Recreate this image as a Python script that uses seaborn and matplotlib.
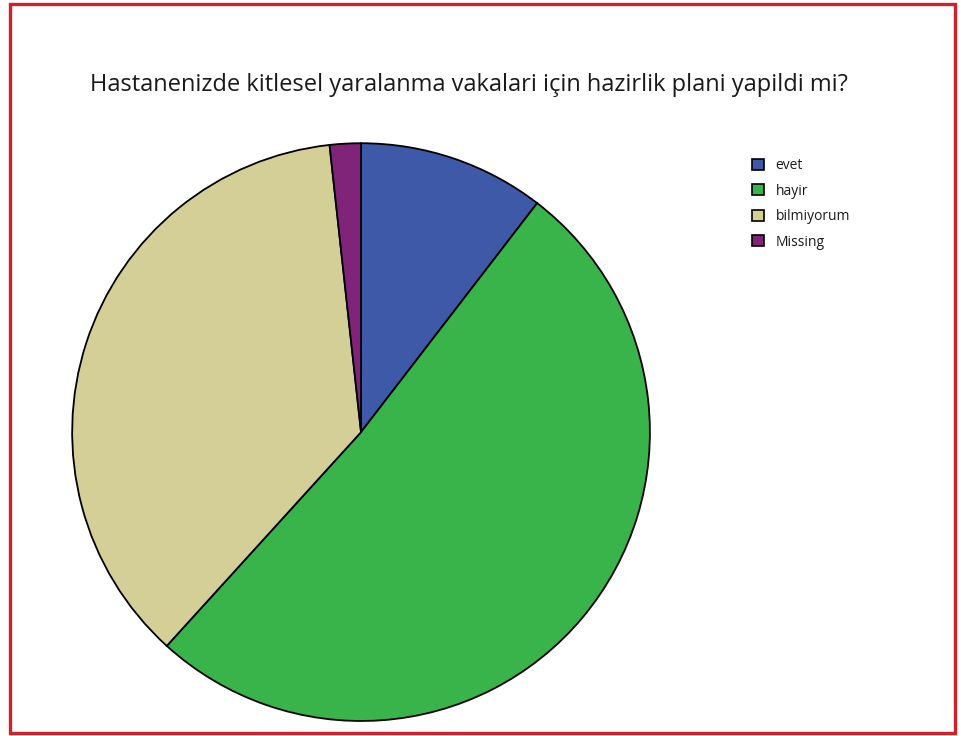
import matplotlib
matplotlib.use("Agg")
import matplotlib.pyplot as plt
from matplotlib.patches import Rectangle, Patch
import seaborn as sns

# survey answers (counts)
labels = ['evet', 'hayir', 'bilmiyorum', 'Missing']
counts = [12, 59, 42, 2]
colors = ['#3e59a8', '#38b44a', '#d4cf96', '#7f2478']
title = 'Hastanenizde kitlesel yaralanma vakalari için hazirlik plani yapildi mi?'

sns.set_theme(style='white')
plt.rcParams['font.family'] = ['Open Sans', 'DejaVu Sans']
plt.rcParams['text.color'] = '#1a1a1a'

fig = plt.figure(figsize=(9.62, 7.36), dpi=100)

# pie axes placed so the circle sits where it does in the original
ax = fig.add_axes([0.0748, 0.0204, 0.601, 0.785])
wedges, _ = ax.pie(counts, colors=sns.color_palette(colors), startangle=90,
                   counterclock=False,
                   wedgeprops=dict(edgecolor='black', linewidth=1.3))
ax.set_xlim(-1, 1)
ax.set_ylim(-1, 1)
ax.set_aspect('equal')

fig.text(0.4875, 0.884, title, ha='center', va='center', fontsize=17)

handles = [Patch(facecolor=c, edgecolor='black', linewidth=1.2) for c in colors]
fig.legend(handles, labels, loc='upper left', bbox_to_anchor=(0.776, 0.7925),
           frameon=False, fontsize=10, handlelength=0.85, handleheight=0.85,
           handletextpad=0.85, labelspacing=0.75, borderaxespad=0)

# red frame round the whole chart
fig.patches.append(Rectangle((0.0105, 0.004), 0.982, 0.991, transform=fig.transFigure,
                             fill=False, edgecolor='#d0202a', linewidth=2.4))

fig.savefig('out.png', dpi=100, facecolor='white')
